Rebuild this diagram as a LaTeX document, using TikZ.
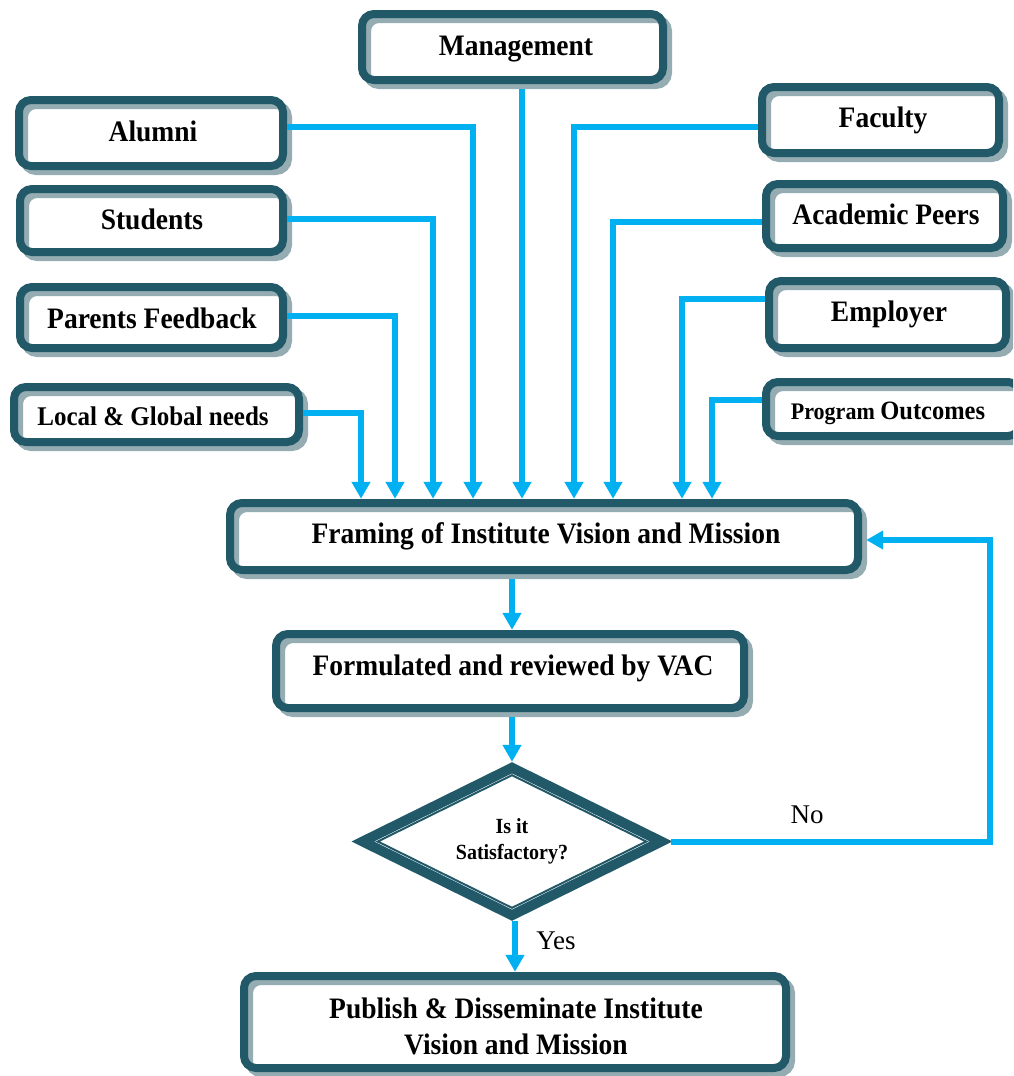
\documentclass[tikz,border=0pt]{standalone}
\usepackage{fontspec}
\setmainfont{Liberation Serif}
\usetikzlibrary{arrows.meta,shapes.geometric,calc}

\definecolor{bordc}{RGB}{33,89,104}
\definecolor{shadc}{RGB}{148,172,178}
\definecolor{flowc}{RGB}{0,176,240}

% slightly taller lettering
\newcommand\tallbox[1]{\scalebox{1}[1.08]{#1}}

\tikzset{
  panel/.style={rectangle, rounded corners=12pt, fill=white, inner sep=0pt,
    postaction={draw=shadc, line width=8pt, transform canvas={shift={(5pt,-5pt)}}},
    postaction={draw=bordc, line width=8pt}},
  lbl/.style={anchor=base, inner sep=0pt, font=\fontsize{27.5}{33}\selectfont\bfseries},
  small/.style={font=\fontsize{20}{24}\selectfont\bfseries},
  plain/.style={anchor=base, inner sep=0pt, font=\fontsize{27}{32}\selectfont},
  flow/.style={draw=flowc, line width=6pt, -{Triangle[width=18pt,length=17pt]}},
}

\begin{document}
\begin{tikzpicture}[x=1pt,y=-1pt]
\useasboundingbox (0,0) rectangle (1013,1076);
\clip (0,0) rectangle (1013,1076);

% ---- boxes ----
\node[panel, minimum width=301pt, minimum height=66pt] (mgmt)     at (512.5,47)  {};
\node[panel, minimum width=264pt, minimum height=66pt] (alumni)   at (151,133)   {};
\node[panel, minimum width=263pt, minimum height=63pt] (students) at (151.5,220.5) {};
\node[panel, minimum width=263pt, minimum height=61pt] (parents)  at (151.5,317.5) {};
\node[panel, minimum width=285pt, minimum height=55pt] (local)    at (156.5,414.5) {};
\node[panel, minimum width=237pt, minimum height=66pt] (faculty)  at (880.5,120) {};
\node[panel, minimum width=237pt, minimum height=64pt] (peers)    at (884.5,216) {};
\node[panel, minimum width=237pt, minimum height=67pt] (employer) at (887.5,314.5) {};
\node[panel, minimum width=254pt, minimum height=54pt] (outcomes) at (893,409) {};
\node[panel, minimum width=628pt, minimum height=67pt] (framing)  at (544,536.5) {};
\node[panel, minimum width=468pt, minimum height=74pt] (review)   at (510,671) {};
\node[panel, minimum width=542pt, minimum height=92pt] (publish)  at (515,1022) {};

% decision diamond with a double outline
\node[diamond, minimum width=298pt, minimum height=147pt, inner sep=0pt] (check) at (512,841.5) {};
\draw[bordc, line width=10pt, fill=white]
  (check.north) -- (check.east) -- (check.south) -- (check.west) -- cycle;
\draw[bordc, line width=2pt]
  ($(check.center)!0.9!(check.north)$) -- ($(check.center)!0.9!(check.east)$) --
  ($(check.center)!0.9!(check.south)$) -- ($(check.center)!0.9!(check.west)$) -- cycle;

% ---- labels ----
\node[lbl] (t-mgmt)     at (516,55)  {\tallbox{Management}};
\node[lbl] (t-alumni)   at (153,141) {\tallbox{Alumni}};
\node[lbl] (t-students) at (152,229) {\tallbox{Students}};
\node[lbl] (t-parents)  at (152,328) {\tallbox{Parents Feedback}};
\node[lbl, font=\fontsize{25}{30}\selectfont\bfseries] (t-local) at (153,425) {\tallbox{Local \& Global needs}};
\node[lbl] (t-faculty)  at (883,127) {\tallbox{Faculty}};
\node[lbl] (t-peers)    at (886,224) {\tallbox{Academic Peers}};
\node[lbl] (t-employer) at (889,321) {\tallbox{Employer}};
\node[lbl] (t-outcomes) at (888,419) {\tallbox{\fontsize{22}{26}\selectfont Program \fontsize{24.5}{29}\selectfont Outcomes}};
\node[lbl] (t-framing)  at (546,543) {\tallbox{Framing of Institute Vision and Mission}};
\node[lbl] (t-review)   at (513,675) {\tallbox{Formulated and reviewed by VAC}};
\node[lbl, small] (t-is)  at (512,833) {\tallbox{Is it}};
\node[lbl, small] (t-sat) at (512,859) {\tallbox{Satisfactory?}};
\node[lbl] (t-pub1) at (516,1018) {\tallbox{Publish \& Disseminate Institute}};
\node[lbl] (t-pub2) at (516,1054) {\tallbox{Vision and Mission}};
\node[plain] (t-no)  at (807,823) {No};
\node[plain] (t-yes) at (556,949) {Yes};

% ---- drop columns of the inputs ----
\coordinate (xl) at (361,0);
\coordinate (xp) at (395,0);
\coordinate (xs) at (433,0);
\coordinate (xa) at (473,0);
\coordinate (xm) at (522,0);
\coordinate (xf) at (574,0);
\coordinate (xk) at (613,0);
\coordinate (xe) at (682,0);
\coordinate (xo) at (712,0);
\coordinate (xr) at (990,0);

% ---- inputs into the framing step ----
\draw[flow, shorten <=4pt, shorten >=4pt] ([yshift=6pt]alumni.east)    -| (xa |- framing.north);
\draw[flow, shorten <=4pt, shorten >=4pt] ([yshift=1.5pt]students.east) -| (xs |- framing.north);
\draw[flow, shorten <=4pt, shorten >=4pt] ([yshift=1.5pt]parents.east)  -| (xp |- framing.north);
\draw[flow, shorten <=4pt, shorten >=4pt] ([yshift=1.5pt]local.east)    -| (xl |- framing.north);
\draw[flow, shorten <=9pt, shorten >=4pt] (xm |- mgmt.south) -- (xm |- framing.north);
\draw[flow, shorten <=4pt, shorten >=4pt] ([yshift=-7pt]faculty.west)   -| (xf |- framing.north);
\draw[flow, shorten <=4pt, shorten >=4pt] ([yshift=-6pt]peers.west)     -| (xk |- framing.north);
\draw[flow, shorten <=4pt, shorten >=4pt] ([yshift=15.5pt]employer.west) -| (xe |- framing.north);
\draw[flow, shorten <=4pt, shorten >=4pt] ([yshift=9pt]outcomes.west)   -| (xo |- framing.north);

% ---- main sequence ----
\draw[flow, shorten <=9pt, shorten >=4pt] (check.north |- framing.south) -- (check.north |- review.north);
\draw[flow, shorten <=9pt, shorten >=6pt] (check.north |- review.south) -- (check.north);
\coordinate (ys) at ($(check.south)+(3,6)$);
\draw[flow, shorten >=4pt] (ys) -- (ys |- publish.north);

% ---- feedback loop when not satisfactory ----
\coordinate (ns) at ($(check.east)+(10,0)$);
\coordinate (fe) at ($(framing.east)+(0,3.5)$);
\draw[flow, shorten >=8pt] (ns) -| (xr |- fe) -- (fe);
\end{tikzpicture}
\end{document}
